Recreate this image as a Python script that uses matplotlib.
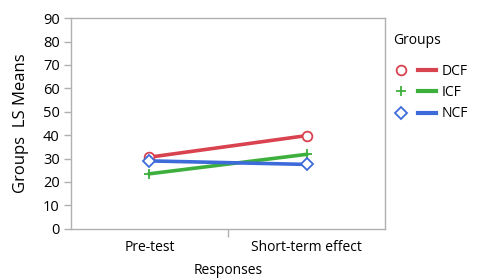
import matplotlib.pyplot as plt
from matplotlib.lines import Line2D
from matplotlib.legend_handler import HandlerTuple

plt.rcParams['font.family'] = ['Open Sans', 'DejaVu Sans']

# data
responses = ["Pre-test", "Short-term effect"]
groups = ["DCF", "ICF", "NCF"]
dcf = [30.6, 39.8]
icf = [23.5, 31.8]
ncf = [29.0, 27.5]

colors = {"DCF": "#d8434f", "ICF": "#3daf3d", "NCF": "#3e6bda"}
markers = {"DCF": "o", "ICF": "+", "NCF": "D"}
values = {"DCF": dcf, "ICF": icf, "NCF": ncf}

fig = plt.figure(figsize=(4.78, 2.79), dpi=100)
ax = fig.add_axes([0.1485, 0.18, 0.657, 0.755])

x = list(range(len(responses)))
for g in groups:
    m = markers[g]
    ax.plot(x, values[g], color=colors[g], lw=2.6, zorder=2)
    ax.plot(x, values[g], ls="none", marker=m, ms=7 if m != "D" else 6,
            mfc="white" if m != "+" else colors[g], mec=colors[g], mew=1.3, zorder=3)

ax.set_xlim(-0.5, 1.5)
ax.set_ylim(0, 90)
ax.set_yticks(range(0, 91, 10))
ax.set_xticks(x)
ax.set_xticklabels(responses)
ax.set_xticks([0.5], minor=True)
ax.tick_params(axis="x", which="major", length=0, pad=8, labelsize=10)
ax.tick_params(axis="x", which="minor", length=6, color="#b0b0b0", width=1)
ax.tick_params(axis="y", length=5, color="#b0b0b0", width=1, labelsize=10.5, pad=3)
for s in ax.spines.values():
    s.set_color("#b0b0b0")
    s.set_linewidth(1)

ax.set_xlabel("Responses", fontsize=10, labelpad=6)
ax.set_ylabel("Groups  LS Means", fontsize=12, labelpad=10)

# legend
handles = []
for g in groups:
    m = markers[g]
    mk = Line2D([], [], ls="none", marker=m, ms=7 if m != "D" else 6,
                mfc="white" if m != "+" else colors[g], mec=colors[g], mew=1.3)
    ln = Line2D([], [], color=colors[g], lw=3)
    handles.append((mk, ln))

fig.text(393 / 478, 1 - 40 / 279, "Groups", fontsize=10, va="center", ha="left")
fig.legend(handles, groups, loc="upper left", borderpad=0,
           bbox_to_anchor=(0.805, 1 - 57 / 279), frameon=False, fontsize=10,
           handler_map={tuple: HandlerTuple(ndivide=None, pad=0.6)},
           handlelength=3.2, handletextpad=0.4, labelspacing=0.45)

fig.savefig("out.png", dpi=100)
